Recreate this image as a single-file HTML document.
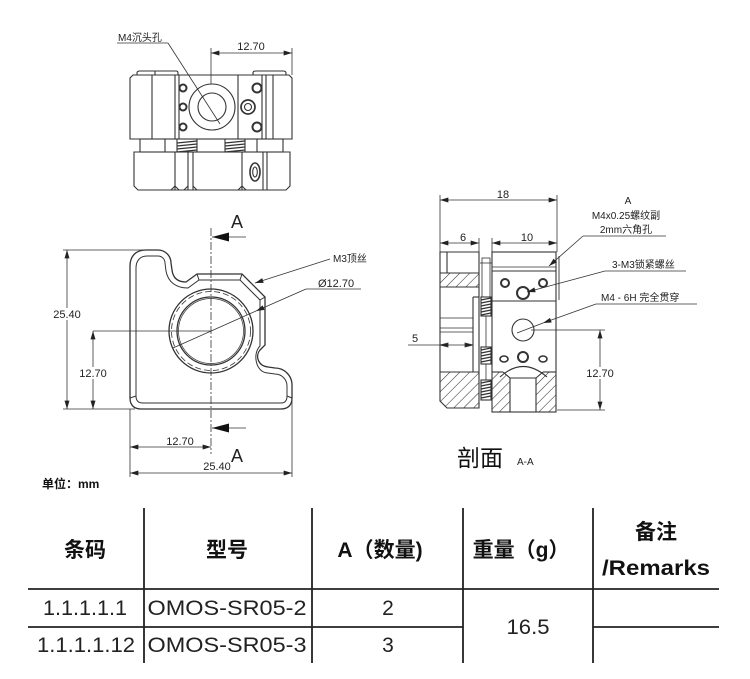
<!DOCTYPE html>
<html><head><meta charset="utf-8"><style>
html,body{margin:0;padding:0;background:#fff;width:750px;height:679px;overflow:hidden}
svg{display:block}
</style></head><body>
<svg width="750" height="679" viewBox="0 0 750 679" xmlns="http://www.w3.org/2000/svg" font-family="'Liberation Sans','Noto Sans CJK SC',sans-serif">
<defs>
<marker id="ar" viewBox="0 0 10 6" refX="10" refY="3" markerWidth="9" markerHeight="5" markerUnits="userSpaceOnUse" orient="auto-start-reverse"><path d="M0,0 L10,3 L0,6 Z" fill="#222"/></marker>
<pattern id="ht" patternUnits="userSpaceOnUse" width="7" height="7" patternTransform="rotate(45)"><line x1="0" y1="0" x2="0" y2="7" stroke="#333" stroke-width="1.1"/></pattern>
</defs>
<rect width="750" height="679" fill="#fff"/>

<!-- ================= TOP VIEW ================= -->
<g fill="none" stroke="#333" stroke-width="1.1">
  <path d="M137 75 V73 Q137 71 140 71 H176 Q178 71 178 73 V75"/>
  <path d="M253 75 V73 Q253 71 256 71 H283 Q286 71 286 73 V75"/>
  <line x1="155" y1="71" x2="155" y2="75"/>
  <path d="M130 78 L133 75 H289 L292 78 V139 H130 Z"/>
  <line x1="152" y1="75" x2="152" y2="139"/>
  <line x1="175" y1="75" x2="175" y2="139"/>
  <line x1="179" y1="75" x2="179" y2="139"/>
  <line x1="238" y1="75" x2="238" y2="139"/>
  <line x1="262" y1="75" x2="262" y2="139"/>
  <line x1="266" y1="75" x2="266" y2="139"/>
  <line x1="273" y1="75" x2="273" y2="139"/>
  <circle cx="212" cy="107" r="23"/>
  <circle cx="212" cy="107" r="14"/>
  <circle cx="183" cy="88" r="3.5" stroke-width="2"/>
  <circle cx="183" cy="107" r="3.5" stroke-width="2"/>
  <circle cx="183" cy="127" r="3.5" stroke-width="2"/>
  <circle cx="248" cy="107" r="7" stroke-width="1.7"/>
  <circle cx="248" cy="107" r="3.5"/>
  <circle cx="257" cy="88" r="4.5" stroke-width="2"/>
  <circle cx="257" cy="127" r="4.5" stroke-width="2"/>
  <!-- middle band -->
  <rect x="140" y="139" width="143" height="13"/>
  <line x1="165" y1="139" x2="165" y2="152"/>
  <line x1="177" y1="139" x2="177" y2="152"/>
  <line x1="197" y1="139" x2="197" y2="152"/>
  <line x1="225" y1="139" x2="225" y2="152"/>
  <line x1="245" y1="139" x2="245" y2="152"/>
  <line x1="257" y1="139" x2="257" y2="152"/>
  <path d="M177 143 L197 141 M177 146 L197 144 M177 149 L197 147 M177 152 L197 150" stroke-width="1.3"/>
  <path d="M225 143 L245 141 M225 146 L245 144 M225 149 L245 147 M225 152 L245 150" stroke-width="1.3"/>
  <!-- lower block -->
  <path d="M134 152 H290 V186 L286 190 H138 L134 186 Z"/>
  <line x1="175" y1="152" x2="175" y2="190"/>
  <line x1="188" y1="152" x2="188" y2="190"/>
  <line x1="193" y1="152" x2="193" y2="190"/>
  <line x1="242" y1="152" x2="242" y2="190"/>
  <line x1="263" y1="152" x2="263" y2="190"/>
  <line x1="267" y1="152" x2="267" y2="190"/>
  <path d="M171 190 L175 186 L179 190 M184 190 L188 186 M193 186 L197 190 M238 190 L242 186 L246 190"/>
  <ellipse cx="255" cy="172" rx="5" ry="9" stroke-width="1.6"/>
  <ellipse cx="255" cy="172" rx="2.3" ry="5"/>
</g>
<!-- top view dims -->
<g stroke="#333" stroke-width="0.8" fill="none">
  <line x1="211" y1="48" x2="211" y2="84"/>
  <line x1="292" y1="48" x2="292" y2="75"/>
  <line x1="211" y1="53" x2="292" y2="53" marker-start="url(#ar)" marker-end="url(#ar)"/>
  <line x1="117" y1="43" x2="168" y2="43"/>
  <line x1="168" y1="43" x2="220" y2="124"/>
</g>
<text x="251" y="50" font-size="11" text-anchor="middle" fill="#222">12.70</text>
<text x="118" y="41" font-size="10" fill="#222">M4沉头孔</text>

<!-- ================= FRONT VIEW ================= -->
<g fill="none" stroke="#333" stroke-width="1.3">
  <path d="M130 398 L130 266 C130 256 136 250 146 250 L158 250 A13 13 0 0 1 171 263 L172 270 C173 278 178 282 186 282 L197 274 L242 274 L265 297 L265 345 L260 350 C255 356 258 366 268 367 L275 368 A17 17 0 0 1 292 385 L292 398 C292 405 288 409 281 409 L141 409 C134 409 130 405 130 398 Z"/>
  <path d="M136 396 L136 268 C136 261 140 256 147 256 L158 256 A7 7 0 0 1 165 263 L166 271 C168 282 176 288 188 288 L199 280 L240 280 L260 300 L260 346 C252 354 256 373 268 373 L275 374 A12 12 0 0 1 287 386 L287 396 C287 401 285 403 281 403 L143 403 C139 403 136 401 136 396 Z" stroke-width="1"/>
  <path d="M242 274 L240 280 M265 297 L260 300 M197 274 L199 280 M130 398 L136 396 M292 398 L287 396" stroke-width="1"/>
  <circle cx="211" cy="331" r="42"/>
  <circle cx="211" cy="331" r="39.5" stroke-width="0.8" stroke-dasharray="6 3"/>
  <circle cx="211" cy="331" r="34"/>
  <circle cx="211" cy="331" r="32.5" stroke-width="0.7"/>
</g>
<g stroke="#333" stroke-width="0.8" fill="none">
  <line x1="211" y1="228" x2="211" y2="454" stroke-dasharray="8 2 2 2"/>
  <line x1="93" y1="331" x2="211" y2="331"/>
  <line x1="63" y1="250" x2="153" y2="250"/>
  <line x1="63" y1="409" x2="135" y2="409"/>
  <line x1="67" y1="250" x2="67" y2="409" marker-start="url(#ar)" marker-end="url(#ar)"/>
  <line x1="93" y1="331" x2="93" y2="409" marker-start="url(#ar)" marker-end="url(#ar)"/>
  <line x1="130" y1="409" x2="130" y2="477"/>
  <line x1="292" y1="400" x2="292" y2="477"/>
  <line x1="130" y1="447" x2="211" y2="447" marker-start="url(#ar)" marker-end="url(#ar)"/>
  <line x1="130" y1="473" x2="292" y2="473" marker-start="url(#ar)" marker-end="url(#ar)"/>
  <line x1="212" y1="237" x2="246" y2="237"/>
  <line x1="212" y1="428" x2="246" y2="428"/>
  <line x1="330" y1="259" x2="255" y2="283" marker-end="url(#ar)"/>
  <line x1="306" y1="289" x2="361" y2="289"/>
  <line x1="306" y1="289" x2="256" y2="311" marker-end="url(#ar)"/>
  <line x1="256" y1="311" x2="173" y2="348"/>
</g>
<path d="M212 237 L229 232.5 L229 241.5 Z" fill="#111"/>
<path d="M212 428 L229 423.5 L229 432.5 Z" fill="#111"/>
<text x="237" y="228" font-size="18" text-anchor="middle" fill="#222">A</text>
<text x="237" y="462" font-size="18" text-anchor="middle" fill="#222">A</text>
<rect x="51" y="308" width="32" height="12" fill="#fff"/>
<text x="67" y="318" font-size="11" text-anchor="middle" fill="#222">25.40</text>
<rect x="78" y="367" width="31" height="12" fill="#fff"/>
<text x="93" y="377" font-size="11" text-anchor="middle" fill="#222">12.70</text>
<text x="180" y="445" font-size="11" text-anchor="middle" fill="#222">12.70</text>
<text x="217" y="470" font-size="11" text-anchor="middle" fill="#222">25.40</text>
<text x="333" y="262" font-size="10" fill="#222">M3顶丝</text>
<text x="318" y="287" font-size="11" fill="#222">Ø12.70</text>
<text x="42" y="488" font-size="12" font-weight="bold" fill="#111">单位：mm</text>

<!-- ================= SECTION VIEW ================= -->
<g fill="url(#ht)" stroke="none">
  <rect x="440" y="273" width="39" height="14"/>
  <polygon points="440,372 479,372 479,408 447,408 440,401"/>
  <polygon points="492,372 503,372 510,378 510,412 492,412"/>
  <polygon points="556,372 543,372 536,378 536,412 556,412"/>
</g>
<g fill="none" stroke="#333" stroke-width="1.1">
  <path d="M440 252 H479 V408 H447 L440 401 Z"/>
  <line x1="447" y1="252" x2="447" y2="273"/>
  <line x1="440" y1="273" x2="479" y2="273"/>
  <line x1="440" y1="287" x2="479" y2="287"/>
  <line x1="473" y1="297" x2="473" y2="372"/>
  <line x1="473" y1="297" x2="479" y2="297"/>
  <line x1="440" y1="318" x2="473" y2="318" stroke-width="0.8"/>
  <line x1="440" y1="328" x2="473" y2="328" stroke-width="0.8"/>
  <line x1="440" y1="332" x2="473" y2="332" stroke-width="0.8"/>
  <line x1="440" y1="372" x2="479" y2="372"/>
  <!-- gap column -->
  <rect x="482" y="258" width="8" height="39" stroke-width="0.8"/>
  <line x1="480" y1="263" x2="492" y2="263" stroke-width="0.8"/>
  <rect x="481" y="297" width="10" height="19"/>
  <rect x="481" y="347" width="10" height="17"/>
  <rect x="481" y="380" width="10" height="20"/>
  <line x1="486" y1="316" x2="486" y2="347" stroke-width="0.8"/>
  <line x1="486" y1="364" x2="486" y2="380" stroke-width="0.8"/>
  <path d="M481 300 L491 298 M481 303 L491 301 M481 306 L491 304 M481 309 L491 307 M481 312 L491 310 M481 315 L491 313" stroke-width="1.4"/>
  <path d="M481 350 L491 348 M481 353 L491 351 M481 356 L491 354 M481 359 L491 357 M481 362 L491 360" stroke-width="1.4"/>
  <path d="M481 383 L491 381 M481 386 L491 384 M481 389 L491 387 M481 392 L491 390 M481 395 L491 393 M481 398 L491 396" stroke-width="1.4"/>
  <!-- right block -->
  <rect x="492" y="252" width="64" height="160"/>
  <line x1="492" y1="267" x2="556" y2="267" stroke-width="0.8"/>
  <line x1="492" y1="271" x2="556" y2="271"/>
  <line x1="492" y1="301" x2="556" y2="301"/>
  <line x1="559" y1="256" x2="559" y2="300" stroke-width="0.9"/>
  <circle cx="505" cy="283" r="4" stroke-width="2"/>
  <circle cx="543" cy="283" r="4" stroke-width="2"/>
  <circle cx="523" cy="293" r="6" stroke-width="2"/>
  <circle cx="523" cy="330" r="11"/>
  <ellipse cx="504" cy="359" rx="4" ry="3" stroke-width="1.6"/>
  <circle cx="523" cy="357" r="5" stroke-width="2"/>
  <ellipse cx="543" cy="359" rx="4" ry="3" stroke-width="1.6"/>
  <path d="M500 377 Q523 356 547 377"/>
  <line x1="492" y1="372" x2="503" y2="372"/>
  <line x1="543" y1="372" x2="556" y2="372"/>
  <line x1="503" y1="372" x2="510" y2="378"/>
  <line x1="543" y1="372" x2="536" y2="378"/>
  <line x1="510" y1="378" x2="536" y2="378"/>
  <line x1="510" y1="378" x2="510" y2="412"/>
  <line x1="536" y1="378" x2="536" y2="412"/>
</g>
<g stroke="#333" stroke-width="0.8" fill="none">
  <line x1="440" y1="195" x2="440" y2="252"/>
  <line x1="557" y1="195" x2="557" y2="252"/>
  <line x1="440" y1="200" x2="557" y2="200" marker-start="url(#ar)" marker-end="url(#ar)"/>
  <line x1="479" y1="238" x2="479" y2="252"/>
  <line x1="492" y1="238" x2="492" y2="252"/>
  <line x1="440" y1="243" x2="479" y2="243" marker-start="url(#ar)" marker-end="url(#ar)"/>
  <line x1="492" y1="243" x2="557" y2="243" marker-start="url(#ar)" marker-end="url(#ar)"/>
  <line x1="408" y1="345" x2="473" y2="345"/>
  <path d="M440 345 L448 343 L448 347 Z M473 345 L465 343 L465 347 Z" fill="#222"/>
  <line x1="531" y1="330" x2="605" y2="330"/>
  <line x1="557" y1="410" x2="605" y2="410"/>
  <line x1="600" y1="330" x2="600" y2="410" marker-start="url(#ar)" marker-end="url(#ar)"/>
  <line x1="583" y1="236" x2="666" y2="236"/>
  <line x1="583" y1="236" x2="549" y2="266" marker-end="url(#ar)"/>
  <line x1="605" y1="271" x2="686" y2="271"/>
  <line x1="605" y1="271" x2="527" y2="292" marker-end="url(#ar)"/>
  <line x1="596" y1="304" x2="697" y2="304"/>
  <line x1="596" y1="304" x2="543" y2="323" marker-end="url(#ar)"/>
  <line x1="543" y1="323" x2="517" y2="333"/>
</g>
<g font-size="11" fill="#222" text-anchor="middle">
  <text x="503" y="198">18</text>
  <text x="463" y="241">6</text>
  <text x="527" y="241">10</text>
  <text x="415" y="342">5</text>
</g>
<rect x="584" y="367" width="32" height="12" fill="#fff"/>
<text x="600" y="377" font-size="11" text-anchor="middle" fill="#222">12.70</text>
<g font-size="10" fill="#222">
  <text x="628" y="204" text-anchor="middle">A</text>
  <text x="626" y="219" text-anchor="middle">M4x0.25螺纹副</text>
  <text x="626" y="233" text-anchor="middle">2mm六角孔</text>
  <text x="612" y="268">3-M3锁紧螺丝</text>
  <text x="601" y="301">M4 - 6H 完全贯穿</text>
</g>
<text x="457" y="466" font-size="23" fill="#111">剖面</text>
<text x="517" y="465" font-size="10" fill="#222">A-A</text>

<!-- ================= TABLE ================= -->
<g stroke="#222" stroke-width="1.8">
  <line x1="144" y1="508" x2="144" y2="663"/>
  <line x1="312" y1="508" x2="312" y2="663"/>
  <line x1="463" y1="508" x2="463" y2="663"/>
  <line x1="593" y1="508" x2="593" y2="663"/>
  <line x1="28" y1="589" x2="719" y2="589"/>
  <line x1="28" y1="627" x2="463" y2="627"/>
  <line x1="593" y1="627" x2="719" y2="627"/>
</g>
<g font-size="21" font-weight="bold" fill="#111" text-anchor="middle">
  <text x="85" y="557">条码</text>
  <text x="227" y="557">型号</text>
  <text x="380" y="557">A（数量)</text>
  <text x="521" y="557">重量（g）</text>
  <text x="656" y="539">备注</text>
  <text x="656" y="575" textLength="108" lengthAdjust="spacingAndGlyphs">/Remarks</text>
</g>
<g font-size="21" fill="#222" text-anchor="middle">
  <text x="85" y="615" textLength="84" lengthAdjust="spacingAndGlyphs">1.1.1.1.1</text>
  <text x="86" y="652" textLength="98" lengthAdjust="spacingAndGlyphs">1.1.1.1.12</text>
  <text x="227" y="615" textLength="159" lengthAdjust="spacingAndGlyphs">OMOS-SR05-2</text>
  <text x="227" y="652" textLength="159" lengthAdjust="spacingAndGlyphs">OMOS-SR05-3</text>
  <text x="388" y="615">2</text>
  <text x="388" y="652">3</text>
  <text x="528" y="634" textLength="43" lengthAdjust="spacingAndGlyphs">16.5</text>
</g>
</svg>
</body></html>
